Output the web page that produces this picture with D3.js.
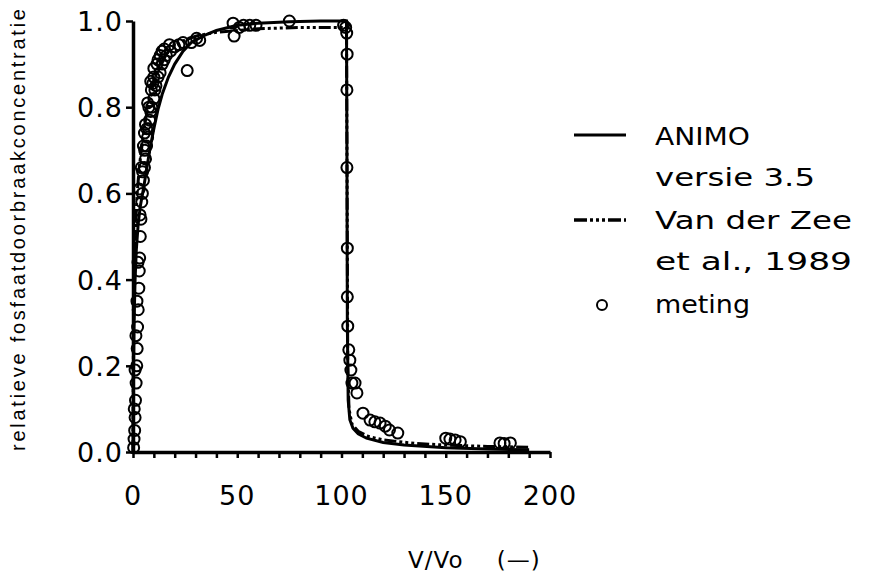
<!DOCTYPE html>
<html>
<head>
<meta charset="utf-8">
<script src="https://cdn.jsdelivr.net/npm/d3@7"></script>
<style>
  html, body { margin: 0; padding: 0; background: #fff; }
  svg { display: block; }
</style>
</head>
<body>
<div id="chart"></div>
<script>
// Breakthrough curve: relative phosphate concentration against V/Vo

// ANIMO versie 3.5 (model, solid)
const animoCurve = [
  [0, 0], [0.2, 0.18], [0.5, 0.3], [1, 0.4], [1.6, 0.47], [2.5, 0.53], [3.5, 0.57],
  [5, 0.61], [6.5, 0.655], [8, 0.7], [10, 0.75], [12, 0.795], [14, 0.83], [17, 0.87],
  [20, 0.9], [24, 0.93], [28, 0.95], [34, 0.966], [40, 0.978], [50, 0.99], [60, 0.995],
  [75, 0.998], [90, 1.0], [102.4, 1.0], [102.6, 0.7], [102.8, 0.3], [103.2, 0.12],
  [104, 0.075], [105.5, 0.055], [108, 0.042], [112, 0.032], [120, 0.022], [130, 0.016],
  [150, 0.01], [170, 0.007], [190, 0.005]
];

// Van der Zee et al., 1989 (model, dash-dot)
const vanDerZeeCurve = [
  [0, 0], [0.2, 0.25], [0.5, 0.4], [1, 0.5], [2, 0.6], [3, 0.66], [4, 0.7], [6, 0.77],
  [8, 0.82], [10, 0.86], [13, 0.9], [17, 0.93], [22, 0.95], [30, 0.965], [40, 0.974],
  [60, 0.982], [80, 0.985], [102.4, 0.985], [102.7, 0.6], [103, 0.2], [103.6, 0.1],
  [105, 0.065], [108, 0.048], [113, 0.036], [120, 0.028], [135, 0.02], [150, 0.016],
  [170, 0.013], [190, 0.011]
];

// meting (measurements, several replicate columns)
const meting = [
  [0.3, 0.01], [0.5, 0.03], [0.8, 0.05], [1, 0.08], [1.2, 0.12], [1.5, 0.16], [1.8, 0.2],
  [2, 0.24], [2.2, 0.29], [2.5, 0.33], [2.8, 0.38], [3, 0.42], [3.2, 0.45], [3.5, 0.5],
  [3.8, 0.54], [4.2, 0.58], [4.5, 0.6], [5, 0.63], [5.5, 0.66], [6, 0.68], [6.5, 0.71],
  [7, 0.73], [7.5, 0.75], [8, 0.77], [8.5, 0.79], [9, 0.8], [10, 0.82], [10.5, 0.84],
  [11, 0.85], [12, 0.87], [13, 0.88], [14, 0.9], [15, 0.91], [16, 0.92], [18, 0.93],
  [20, 0.94], [22, 0.945], [24, 0.95], [26, 0.885], [28, 0.95], [30.5, 0.96], [32, 0.955],
  [48, 0.995], [48.5, 0.965], [51, 0.985], [53, 0.99], [56, 0.99], [59, 0.99], [75, 1.0],
  [101, 0.99], [102, 0.985], [102.5, 0.972], [102.7, 0.923], [102.6, 0.84], [102.6, 0.66],
  [102.8, 0.473], [102.8, 0.36], [103, 0.292], [103.5, 0.237], [104, 0.213], [104.5, 0.19],
  [105, 0.16], [106.5, 0.16], [107.4, 0.137], [110.3, 0.09], [113.7, 0.074], [116, 0.07],
  [118.5, 0.067], [121, 0.06], [123, 0.051], [127, 0.044], [150, 0.032], [152, 0.03],
  [154.5, 0.028], [157, 0.024], [176, 0.021], [178, 0.02], [181, 0.021],
  [0.6, 0.1], [1, 0.19], [1.4, 0.27], [1.9, 0.35], [2.4, 0.44], [3.4, 0.55], [4.6, 0.65],
  [5.6, 0.7], [6.6, 0.75], [7.6, 0.8], [8.8, 0.84], [10, 0.87], [11.5, 0.9], [13, 0.92],
  [15, 0.935], [17.5, 0.945], [4, 0.66], [5, 0.71], [6, 0.76], [7, 0.81], [8.5, 0.86],
  [10, 0.89], [12, 0.91], [14, 0.93], [3, 0.61], [5.5, 0.74], [9.5, 0.855]
];

const xTicks = [0, 50, 100, 150, 200];
const yTicks = [0, 0.2, 0.4, 0.6, 0.8, 1.0];
const legendLabels = [["ANIMO", "versie  3.5"], ["Van  der  Zee", "et  al.,  1989"], ["meting"]];

const width = 871, height = 576;
const font = "'DejaVu Sans', sans-serif";

const svg = d3.select('#chart').append('svg')
  .attr('width', width).attr('height', height);

const x = d3.scaleLinear().domain([0, 200]).range([133, 550]);
const y = d3.scaleLinear().domain([0, 1]).range([452, 21]);

// axes
const xAxis = d3.axisBottom(x).tickValues(d3.range(0, 201, 10)).tickSize(6).tickSizeOuter(0).tickFormat('');
const yAxis = d3.axisLeft(y).tickValues(yTicks).tickSize(7).tickSizeOuter(0).tickFormat('');

const gx = svg.append('g').attr('transform', `translate(0,${y(0)})`).call(xAxis);
const gy = svg.append('g').attr('transform', `translate(${x(0)},0)`).call(yAxis);
[gx, gy].forEach(g => {
  g.select('.domain').attr('stroke', '#000').attr('stroke-width', 3.5);
  g.selectAll('.tick line').attr('stroke', '#000').attr('stroke-width', 2.5);
});

// tick labels
svg.append('g').selectAll('text').data(xTicks).join('text')
  .attr('x', d => x(d)).attr('y', 505)
  .attr('text-anchor', 'middle')
  .attr('font-family', font).attr('font-size', 27).attr('letter-spacing', 1)
  .text(d => d);

svg.append('g').selectAll('text').data(yTicks).join('text')
  .attr('x', 123).attr('y', d => y(d) + 10)
  .attr('text-anchor', 'end')
  .attr('font-family', font).attr('font-size', 27).attr('letter-spacing', 1)
  .text(d => d.toFixed(1));

// axis titles
svg.append('text')
  .attr('transform', `translate(25,230) rotate(-90)`)
  .attr('text-anchor', 'middle')
  .attr('font-family', "'Liberation Sans', Arial, sans-serif").attr('font-size', 20)
  .attr('textLength', 442).attr('lengthAdjust', 'spacing')
  .text('relatieve  fosfaatdoorbraakconcentratie');

svg.append('text')
  .attr('x', 408).attr('y', 568)
  .attr('font-family', font).attr('font-size', 23).attr('letter-spacing', 1)
  .attr('xml:space', 'preserve')
  .text('V/Vo    (\u2014)');

// model curves
const line = d3.line().x(d => x(d[0])).y(d => y(d[1]));

svg.append('path').datum(vanDerZeeCurve)
  .attr('d', line)
  .attr('fill', 'none').attr('stroke', '#000').attr('stroke-width', 3)
  .attr('stroke-dasharray', '12,3,3,3,3,3,3,3');

svg.append('path').datum(animoCurve)
  .attr('d', line)
  .attr('fill', 'none').attr('stroke', '#000').attr('stroke-width', 3);

// measurements
svg.append('g').selectAll('circle').data(meting).join('circle')
  .attr('cx', d => x(d[0])).attr('cy', d => y(d[1])).attr('r', 5.5)
  .attr('fill', 'none').attr('stroke', '#000').attr('stroke-width', 2);

// legend
const legend = svg.append('g').attr('font-family', font).attr('font-size', 25)
  .attr('xml:space', 'preserve');

legend.append('line').attr('x1', 574).attr('x2', 626).attr('y1', 135).attr('y2', 135)
  .attr('stroke', '#000').attr('stroke-width', 3);
legend.append('line').attr('x1', 574).attr('x2', 626).attr('y1', 220).attr('y2', 220)
  .attr('stroke', '#000').attr('stroke-width', 3.5)
  .attr('stroke-dasharray', '13,3,3,3,3,3,3,3');
legend.append('circle').attr('cx', 602).attr('cy', 305).attr('r', 5)
  .attr('fill', 'none').attr('stroke', '#000').attr('stroke-width', 2);

// each legend row: text, baseline, run length
const rows = [[legendLabels[0][0], 145, 95], [legendLabels[0][1], 186, 160],
              [legendLabels[1][0], 229, 197], [legendLabels[1][1], 270, 197],
              [legendLabels[2][0], 313, 95]];
legend.selectAll('text').data(rows).join('text')
  .attr('x', 655).attr('y', d => d[1])
  .attr('textLength', d => d[2]).attr('lengthAdjust', 'spacingAndGlyphs')
  .text(d => d[0]);
</script>
</body>
</html>
